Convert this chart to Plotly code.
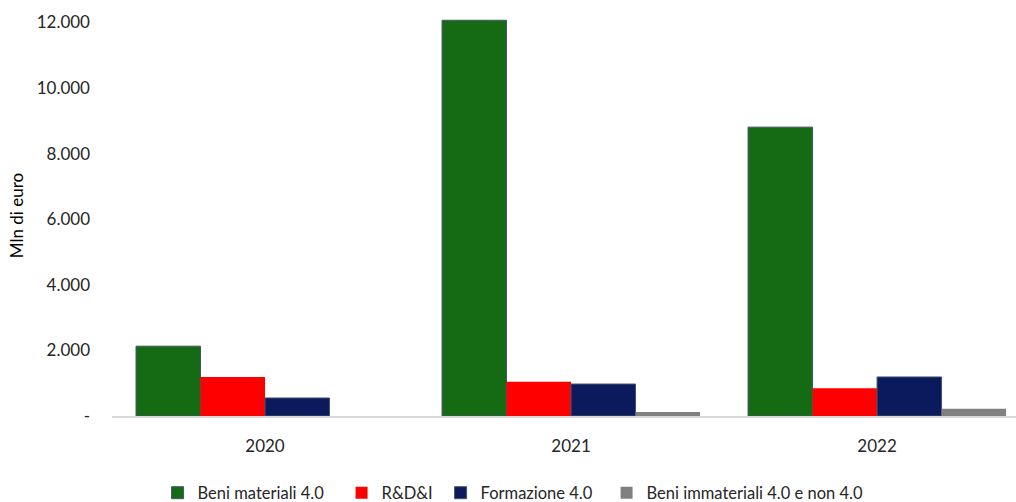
import plotly.graph_objects as go

years = ["2020", "2021", "2022"]
beni_materiali = [2130, 12070, 8810]
rsi = [1190, 1045, 845]
formazione = [550, 975, 1190]
beni_immateriali = [0, 122, 223]

series_names = ["Beni materiali 4.0", "R&D&I", "Formazione 4.0", "Beni immateriali 4.0 e non 4.0"]
colors = ["#156B13", "#FF0000", "#0A1A5C", "#808080"]
line_colors = ["#44546A", "#FF0000", "#44546A", "#808080"]
line_widths = [1, 0, 1, 0]
legend_widths = [139, 54, 121, None]

tick_vals = [0, 2000, 4000, 6000, 8000, 10000, 12000]
tick_text = ["-", "2.000", "4.000", "6.000", "8.000", "10.000", "12.000"]

FONT = "Lato"

fig = go.Figure()
for name, vals, c, lc, lw, lgw in zip(series_names,
                                      [beni_materiali, rsi, formazione, beni_immateriali],
                                      colors, line_colors, line_widths, legend_widths):
    fig.add_trace(go.Bar(
        x=years, y=vals, name=name,
        marker=dict(color=c, line=dict(color=lc, width=lw)),
        legendwidth=lgw,
    ))

fig.update_layout(
    width=1016, height=502,
    paper_bgcolor="white", plot_bgcolor="white",
    barmode="group", bargap=0.157, bargroupgap=0,
    margin=dict(l=112, r=0, t=15, b=86, autoexpand=False),
    font=dict(family=FONT, color="#262626"),
    showlegend=True,
    legend=dict(
        orientation="h", x=0.505, xanchor="center", xref="container",
        y=0.018, yanchor="middle", yref="container",
        font=dict(family=FONT, size=16.5, color="#262626"),
    ),
)
fig.update_xaxes(
    type="category", range=[-0.5, 2.454], automargin=False,
    showline=True, linecolor="#D9D9D9", linewidth=1.5,
    ticks="", showgrid=False,
    tickfont=dict(family=FONT, size=17, color="#262626"),
    ticklabelstandoff=14,
)
fig.update_yaxes(
    range=[0, 12230], automargin=False,
    tickvals=tick_vals, ticktext=tick_text,
    showgrid=False, zeroline=False, showline=False,
    ticks="", ticklabelstandoff=21,
    tickfont=dict(family=FONT, size=17, color="#262626"),
    title=dict(text="Mln di euro", font=dict(family=FONT, size=17, color="#000000"), standoff=8),
)

fig.write_html(
    "out.html",
    config={"displayModeBar": False},
    post_script="document.body.style.margin='0';document.body.style.overflow='hidden';",
)
